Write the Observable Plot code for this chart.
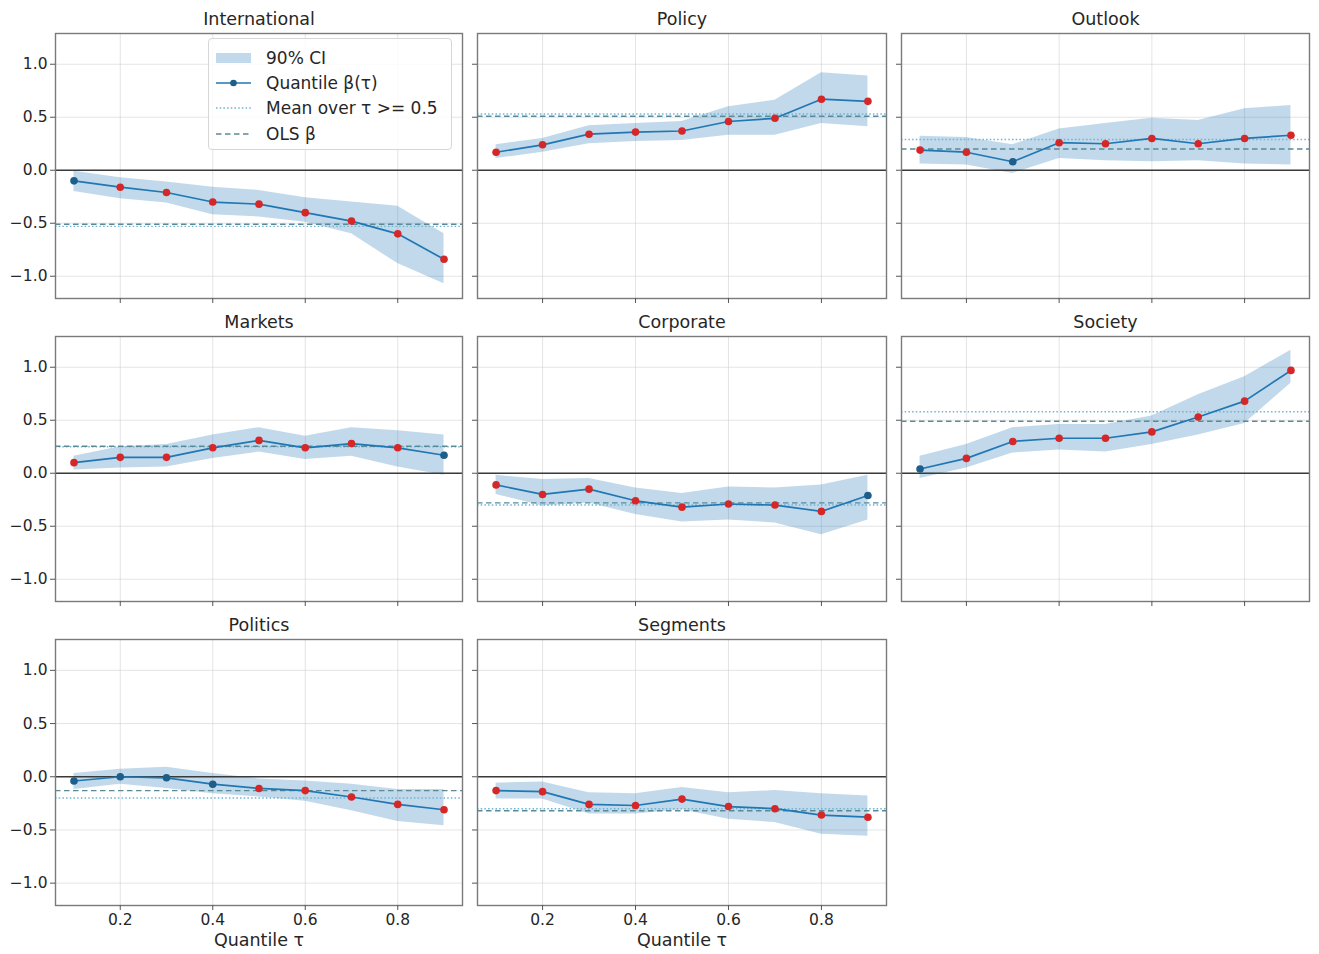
<!DOCTYPE html>
<html>
<head>
<meta charset="utf-8">
<script src="https://cdn.jsdelivr.net/npm/d3@7"></script>
<script src="https://cdn.jsdelivr.net/npm/@observablehq/plot@0.6"></script>
<style>
  html, body { margin: 0; padding: 0; background: #fff; }
  #chart { position: relative; width: 1319px; height: 954px; background: #fff; overflow: hidden; font-family: "DejaVu Sans", sans-serif; }
  #chart > svg { position: absolute; }
  #chart .legend { position: absolute; left: 208px; top: 38px; width: 244px; height: 112px; box-sizing: border-box;
            border: 1px solid #d6d6d6; border-radius: 4px; background: rgba(255,255,255,0.85); font-size: 17px; color: #262626; }
  #chart .legend .row { position: absolute; left: 6px; height: 22px; display: flex; align-items: center; white-space: nowrap; }
  #chart .legend .row svg { position: static; margin-right: 14px; flex: none; }
</style>
</head>
<body>
<div id="chart"></div>
<script>
// ---------------- data ----------------
const categories = ["International", "Policy", "Outlook", "Markets", "Corporate", "Society", "Politics", "Segments"];
const taus = [0.1, 0.2, 0.3, 0.4, 0.5, 0.6, 0.7, 0.8, 0.9];
const xTicks = [0.2, 0.4, 0.6, 0.8];
const yTicks = [-1.0, -0.5, 0.0, 0.5, 1.0];

// quantile coefficients beta(tau), one list per category (same order as categories)
const betaValues = [
  [-0.10, -0.16, -0.21, -0.30, -0.32, -0.40, -0.48, -0.60, -0.84],
  [0.17, 0.24, 0.34, 0.36, 0.37, 0.46, 0.49, 0.67, 0.65],
  [0.19, 0.17, 0.08, 0.26, 0.25, 0.30, 0.25, 0.30, 0.33],
  [0.10, 0.15, 0.15, 0.24, 0.31, 0.24, 0.28, 0.24, 0.17],
  [-0.11, -0.20, -0.15, -0.26, -0.32, -0.29, -0.30, -0.36, -0.21],
  [0.04, 0.14, 0.30, 0.33, 0.33, 0.39, 0.53, 0.68, 0.97],
  [-0.04, 0.00, -0.01, -0.07, -0.11, -0.13, -0.19, -0.26, -0.31],
  [-0.13, -0.14, -0.26, -0.27, -0.21, -0.28, -0.30, -0.36, -0.38]
];
// 90% CI lower bounds
const ciLower = [
  [-0.20, -0.27, -0.31, -0.42, -0.44, -0.49, -0.60, -0.88, -1.07],
  [0.11, 0.17, 0.25, 0.27, 0.28, 0.33, 0.33, 0.44, 0.41],
  [0.06, 0.05, -0.03, 0.11, 0.09, 0.08, 0.09, 0.06, 0.05],
  [0.03, 0.05, 0.06, 0.14, 0.20, 0.13, 0.16, 0.06, -0.02],
  [-0.20, -0.31, -0.28, -0.39, -0.46, -0.44, -0.47, -0.58, -0.44],
  [-0.05, 0.05, 0.19, 0.22, 0.20, 0.27, 0.36, 0.47, 0.85],
  [-0.12, -0.07, -0.11, -0.16, -0.19, -0.23, -0.32, -0.42, -0.46],
  [-0.21, -0.21, -0.35, -0.35, -0.31, -0.40, -0.43, -0.54, -0.56]
];
// 90% CI upper bounds
const ciUpper = [
  [-0.01, -0.07, -0.11, -0.16, -0.19, -0.26, -0.30, -0.34, -0.60],
  [0.24, 0.30, 0.42, 0.44, 0.46, 0.60, 0.66, 0.92, 0.89],
  [0.32, 0.31, 0.24, 0.39, 0.44, 0.49, 0.47, 0.58, 0.61],
  [0.16, 0.25, 0.27, 0.36, 0.43, 0.35, 0.43, 0.40, 0.36],
  [-0.02, -0.06, -0.05, -0.14, -0.19, -0.13, -0.14, -0.11, -0.02],
  [0.16, 0.27, 0.43, 0.46, 0.46, 0.54, 0.74, 0.91, 1.16],
  [0.03, 0.07, 0.09, 0.03, -0.02, -0.04, -0.07, -0.12, -0.12],
  [-0.06, -0.05, -0.15, -0.16, -0.10, -0.15, -0.13, -0.16, -0.18]
];
// 1 = significant (red marker), 0 = not significant
const significant = [
  [0, 1, 1, 1, 1, 1, 1, 1, 1],
  [1, 1, 1, 1, 1, 1, 1, 1, 1],
  [1, 1, 0, 1, 1, 1, 1, 1, 1],
  [1, 1, 1, 1, 1, 1, 1, 1, 0],
  [1, 1, 1, 1, 1, 1, 1, 1, 0],
  [0, 1, 1, 1, 1, 1, 1, 1, 1],
  [0, 0, 0, 0, 1, 1, 1, 1, 1],
  [1, 1, 1, 1, 1, 1, 1, 1, 1]
];
// mean of beta over tau >= 0.5, and OLS beta
const meanUpper = [-0.53, 0.53, 0.29, 0.25, -0.30, 0.58, -0.20, -0.30];
const olsBeta   = [-0.51, 0.51, 0.20, 0.255, -0.28, 0.49, -0.13, -0.32];

// ---------------- styling ----------------
const C_BAND = "#1f77b4";
const C_LINE = "#1f77b4";
const C_SIG = "#d62728";
const C_NONSIG = "#1d5f8a";
const C_MEAN = "#6cb4d8";
const C_OLS = "#5a8a96";

const panelLeft = [55, 477, 901];
const panelWidth = [407, 409, 408];
const panelTop = [33, 336, 639];
const panelHeight = [265, 265, 266];

const chart = document.getElementById("chart");
const fmt = d3.format(".1f");

categories.forEach((name, k) => {
  const row = Math.floor(k / 3), col = k % 3;
  const isBottom = row === 2;
  const isLeft = col === 0;
  const mL = isLeft ? 55 : 12, mR = 6, mT = 30, mB = isBottom ? 50 : 10;
  const data = taus.map((t, i) => ({
    tau: t, beta: betaValues[k][i], lo: ciLower[k][i], hi: ciUpper[k][i], sig: significant[k][i]
  }));
  const marks = [
    Plot.gridX(xTicks, {stroke: "#cfcfcf", strokeOpacity: 0.7, strokeWidth: 0.8}),
    Plot.gridY(yTicks, {stroke: "#cfcfcf", strokeOpacity: 0.7, strokeWidth: 0.8}),
    Plot.areaY(data, {x: "tau", y1: "lo", y2: "hi", fill: C_BAND, fillOpacity: 0.28}),
    Plot.ruleY([0], {stroke: "#3a3a3a", strokeWidth: 1.3}),
    Plot.ruleY([meanUpper[k]], {stroke: C_MEAN, strokeWidth: 1.4, strokeDasharray: "1.5,2.2"}),
    Plot.ruleY([olsBeta[k]], {stroke: C_OLS, strokeWidth: 1.4, strokeDasharray: "5.5,3.5"}),
    Plot.line(data, {x: "tau", y: "beta", stroke: C_LINE, strokeWidth: 1.7}),
    Plot.dot(data, {x: "tau", y: "beta", r: 3.8, stroke: null, fill: d => d.sig ? C_SIG : C_NONSIG}),
    Plot.frame({stroke: "#7a7a7a", strokeWidth: 1.4}),
    Plot.axisX({ticks: xTicks, tickSize: 5, tickPadding: 3, stroke: "#555", label: null,
                tickFormat: isBottom ? (d => fmt(d)) : (() => "")}),
    Plot.axisY({ticks: yTicks, tickSize: 5, tickPadding: 3, stroke: "#555", label: null,
                tickFormat: isLeft ? (d => fmt(d)) : (() => "")}),
    Plot.text([name], {frameAnchor: "top", lineAnchor: "middle", dy: -14, fontSize: 17.5, fill: "#262626"})
  ];
  if (isBottom) {
    marks.push(Plot.text(["Quantile τ"], {frameAnchor: "bottom", lineAnchor: "middle", dy: 35, fontSize: 17.5, fill: "#262626"}));
  }
  const svg = Plot.plot({
    width: panelWidth[col] + mL + mR,
    height: panelHeight[row] + mT + mB,
    marginLeft: mL, marginRight: mR, marginTop: mT, marginBottom: mB,
    x: {domain: [0.06, 0.94]},
    y: {domain: [-1.21, 1.29]},
    style: {background: "transparent", fontFamily: "DejaVu Sans, sans-serif", fontSize: "15.5px",
            color: "#262626", overflow: "visible", maxWidth: "none"},
    marks
  });
  svg.style.left = (panelLeft[col] - mL) + "px";
  svg.style.top = (panelTop[row] - mT) + "px";
  chart.appendChild(svg);
});

// ---------------- legend (inside International panel) ----------------
const legendItems = [
  {label: "90% CI", kind: "band"},
  {label: "Quantile β(τ)", kind: "line"},
  {label: "Mean over τ >= 0.5", kind: "mean"},
  {label: "OLS β", kind: "ols"}
];
const legend = document.createElement("div");
legend.className = "legend";
const rowTops = [8, 33, 58, 84];
legendItems.forEach((it, i) => {
  const r = document.createElement("div");
  r.className = "row";
  r.style.top = rowTops[i] + "px";
  let sw = "";
  if (it.kind === "band") sw = `<rect x="1" y="6" width="35" height="10" fill="${C_BAND}" fill-opacity="0.28"/>`;
  if (it.kind === "line") sw = `<line x1="1" x2="36" y1="11" y2="11" stroke="${C_LINE}" stroke-width="1.7"/><circle cx="18.5" cy="11" r="3.3" fill="${C_NONSIG}"/>`;
  if (it.kind === "mean") sw = `<line x1="1" x2="36" y1="11" y2="11" stroke="${C_MEAN}" stroke-width="1.4" stroke-dasharray="1.5,2.2"/>`;
  if (it.kind === "ols") sw = `<line x1="1" x2="36" y1="11" y2="11" stroke="${C_OLS}" stroke-width="1.4" stroke-dasharray="5.5,3.5"/>`;
  r.innerHTML = `<svg width="37" height="22">${sw}</svg><span>${it.label}</span>`;
  legend.appendChild(r);
});
chart.appendChild(legend);
</script>
</body>
</html>
